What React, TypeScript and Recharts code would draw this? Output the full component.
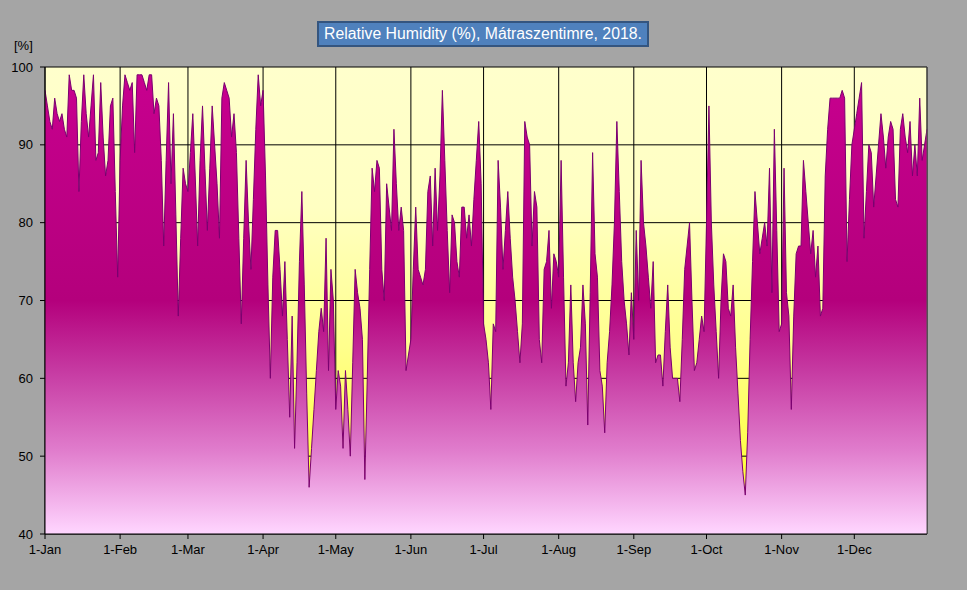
import { AreaChart, Area, XAxis, YAxis, CartesianGrid, ReferenceLine } from "recharts";

// daily relative humidity, Mátraszentimre 2018, one array per month
const jan = [97, 95, 93, 92, 96, 94, 93, 94, 92, 91, 99, 97, 97, 96, 84, 93, 99, 94, 91, 95, 99, 88, 89, 98, 91, 86, 88, 95, 96, 84, 73];
const feb = [88, 95, 99, 98, 97, 98, 89, 99, 99, 99, 98, 97, 99, 99, 94, 96, 95, 88, 77, 88, 98, 85, 94, 81, 68, 78, 87, 85];
const mar = [84, 89, 94, 86, 77, 88, 95, 87, 79, 87, 95, 90, 85, 78, 96, 98, 97, 96, 91, 94, 89, 78, 67, 78, 88, 80, 74, 83, 92, 99, 95];
const apr = [97, 86, 72, 60, 73, 79, 79, 74, 68, 75, 65, 55, 68, 51, 62, 75, 84, 72, 58, 46, 51, 56, 61, 66, 69, 66, 78, 61, 74, 70];
const may = [56, 61, 59, 51, 61, 56, 50, 62, 74, 71, 69, 65, 47, 60, 74, 87, 84, 88, 87, 74, 70, 85, 82, 79, 92, 85, 79, 82, 79, 61, 63];
const jun = [65, 74, 82, 74, 73, 72, 74, 84, 86, 77, 87, 79, 86, 97, 88, 79, 71, 81, 80, 75, 73, 82, 82, 78, 81, 77, 83, 88, 93, 85];
const jul = [67, 65, 62, 56, 67, 66, 88, 82, 74, 79, 84, 78, 73, 70, 66, 62, 67, 93, 91, 90, 77, 84, 82, 65, 62, 74, 75, 79, 69, 76, 75];
const aug = [73, 88, 73, 59, 62, 72, 62, 57, 62, 64, 72, 67, 54, 71, 89, 76, 73, 61, 59, 53, 62, 66, 72, 80, 93, 84, 75, 70, 67, 63, 71];
const sep = [65, 79, 70, 88, 80, 77, 73, 69, 75, 62, 63, 63, 59, 66, 72, 64, 60, 60, 60, 57, 65, 74, 77, 80, 70, 61, 62, 65, 68, 66];
const oct = [80, 95, 80, 72, 66, 60, 70, 76, 75, 69, 68, 72, 64, 58, 52, 48, 45, 53, 65, 75, 84, 80, 76, 78, 80, 77, 87, 71, 92, 79, 66];
const nov = [67, 87, 71, 68, 56, 68, 76, 77, 77, 88, 84, 80, 76, 79, 73, 77, 68, 69, 86, 92, 96, 96, 96, 96, 96, 97, 96, 75, 83, 90];
const dec = [92, 94, 96, 98, 78, 84, 90, 89, 82, 86, 90, 94, 91, 87, 91, 93, 92, 83, 82, 92, 94, 91, 89, 93, 86, 90, 86, 96, 88, 90, 92];

const monthStarts = [0, 31, 59, 90, 120, 151, 181, 212, 243, 273, 304, 334];
const monthLabels = ["1-Jan", "1-Feb", "1-Mar", "1-Apr", "1-May", "1-Jun", "1-Jul", "1-Aug", "1-Sep", "1-Oct", "1-Nov", "1-Dec"];
const yTicks = [40, 50, 60, 70, 80, 90, 100];

const data = [jan, feb, mar, apr, may, jun, jul, aug, sep, oct, nov, dec]
    .flat()
    .map((rh, day) => ({ day, rh }));

const font = "'Liberation Sans', Arial, sans-serif";

export default function App() {
    return (
        <div style={{ position: "fixed", left: 0, top: 0, width: 967, height: 590, background: "#a5a5a5", fontFamily: font }}>
            <AreaChart width={967} height={590} data={data} margin={{ top: 67, right: 40, bottom: 26, left: 0 }}>
                <defs>
                    <linearGradient id="plotBg" x1="0" y1="0" x2="0" y2="1">
                        <stop offset="0%" stopColor="#ffffcc" />
                        <stop offset="30%" stopColor="#ffffc2" />
                        <stop offset="60%" stopColor="#ffff8c" />
                        <stop offset="85%" stopColor="#ffff44" />
                        <stop offset="100%" stopColor="#ffff33" />
                    </linearGradient>
                    <linearGradient id="rhFill" gradientUnits="userSpaceOnUse" x1="0" y1="67" x2="0" y2="534">
                        <stop offset="0%" stopColor="#c8008f" />
                        <stop offset="50%" stopColor="#b4007c" />
                        <stop offset="65%" stopColor="#c63aa2" />
                        <stop offset="82%" stopColor="#e07ccc" />
                        <stop offset="100%" stopColor="#ffd6ff" />
                    </linearGradient>
                </defs>
                <CartesianGrid stroke="#000" strokeWidth={1} fill="url(#plotBg)" fillOpacity={1} />
                <XAxis
                    type="number"
                    dataKey="day"
                    domain={[0, 364]}
                    ticks={monthStarts}
                    interval={0}
                    tickFormatter={(v) => monthLabels[monthStarts.indexOf(v)]}
                    stroke="#000"
                    tick={{ fill: "#000", fontSize: 13, fontFamily: font }}
                    tickSize={5}
                    tickMargin={6}
                    height={30}
                />
                <YAxis
                    domain={[40, 100]}
                    ticks={yTicks}
                    interval={0}
                    width={45}
                    stroke="#000"
                    tick={{ fill: "#000", fontSize: 13, fontFamily: font }}
                    tickSize={5}
                    tickMargin={7}
                />
                <ReferenceLine x={364} stroke="#555" />
                <Area
                    type="linear"
                    dataKey="rh"
                    stroke="#7a0070"
                    strokeWidth={1}
                    fill="url(#rhFill)"
                    fillOpacity={1}
                    dot={false}
                    activeDot={false}
                    isAnimationActive={false}
                />
            </AreaChart>
            <div style={{ position: "absolute", left: 14, top: 38, fontSize: 13, color: "#000" }}>[%]</div>
            <div
                style={{
                    position: "absolute",
                    left: 317,
                    top: 21,
                    width: 328,
                    height: 22,
                    background: "#4f81bd",
                    border: "2px solid #34557f",
                    color: "#fff",
                    fontSize: 15.8,
                    lineHeight: "22px",
                    textAlign: "center",
                    whiteSpace: "nowrap",
                }}
            >
                Relative Humidity (%), Mátraszentimre, 2018.
            </div>
        </div>
    );
}
